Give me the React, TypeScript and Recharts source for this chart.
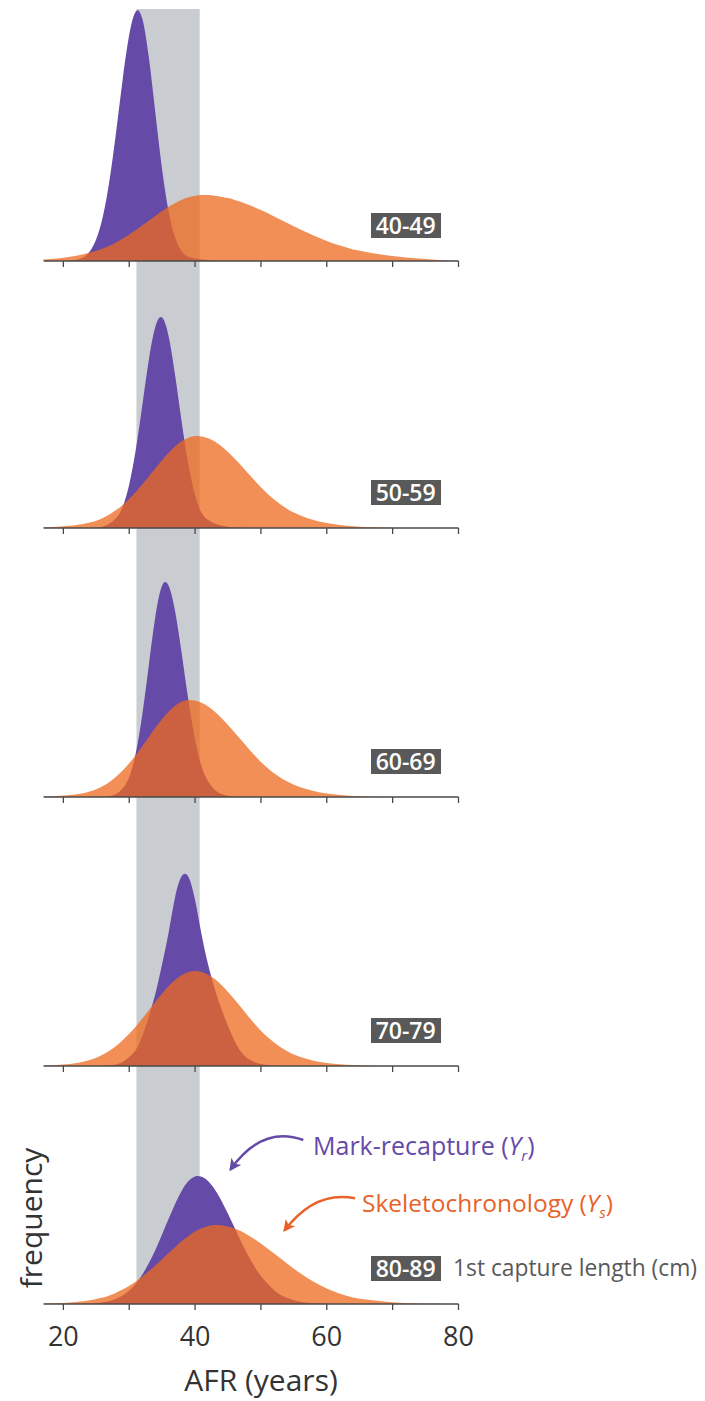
import React from "react";
import { Area, ComposedChart, ReferenceArea, XAxis, YAxis } from "recharts";

// AFR grid (years) shared by every panel
const ages = [
  17, 19, 21,
  22, 23, 24, 25, 26, 27, 28, 29, 30, 31,
  32, 33, 34, 35, 36, 37, 38, 39, 40, 41,
  42, 43, 44, 45, 46, 47, 48, 49, 50,
  52, 54, 56, 58, 60, 62, 64, 66, 68, 70, 72, 74, 76, 78, 80,
];

const xTicks = [20, 30, 40, 50, 60, 70, 80];
const sizeClasses = ["40-49", "50-59", "60-69", "70-79", "80-89"];
// grey band: AFR range highlighted across all panels
const bandRange = [31.1, 40.7];

// frequency (arbitrary units)
const mark4049 = [
  0, 0, 0.3,
  1.2, 3.6, 9.4, 21.9, 44.5, 80.4, 128.4, 181.3, 226.2, 249.6,
  242.1, 202.7, 146.4, 91.2, 49, 22.7, 9.5, 4.2, 2.6, 1.6,
  1, 0.5, 0.2, 0, 0, 0, 0, 0, 0,
  0, 0, 0, 0, 0, 0, 0, 0, 0, 0, 0, 0, 0, 0, 0,
];
const skel4049 = [
  1.5, 2.5, 4.2,
  5.3, 6.7, 8.3, 10.3, 12.6, 15.3, 18.6, 22.4, 26.6, 31,
  35.7, 40.5, 45.3, 49.9, 54.3, 58.1, 61.3, 63.7, 65.3, 66,
  65.9, 65.3, 64.3, 62.9, 61.1, 58.9, 56.5, 53.8, 50.9,
  44.6, 38, 31.6, 25.6, 20.1, 15.4, 11.5, 9, 6.8, 5, 3.5, 2.4, 1.5, 0.7, 0,
];

const mark5059 = [
  0, 0, 0,
  0, 0, 0, 0.5, 1.5, 4.5, 10, 21, 43.5, 78.4,
  123.2, 169, 201.9, 210.4, 191.2, 151.4, 104.5, 62.9, 33, 15.1,
  8, 4.5, 2.5, 1.2, 0.5, 0.2, 0, 0, 0,
  0, 0, 0, 0, 0, 0, 0, 0, 0, 0, 0, 0, 0, 0, 0,
];
const skel5059 = [
  0.8, 1.3, 2.2,
  3, 4, 5.5, 7.3, 10.1, 13.6, 17.9, 23.1, 29.2, 36.1,
  43.7, 51.7, 59.9, 67.9, 75.3, 81.8, 86.9, 90.3, 91.9, 91.6,
  89.7, 86.4, 81.7, 76, 69.4, 62.4, 55, 47.8, 40.7,
  28.5, 19, 12.5, 8, 5, 3, 1.8, 1.1, 0.6, 0.3, 0, 0, 0, 0, 0,
];

const mark6069 = [
  0, 0, 0,
  0, 0, 0, 0, 0.3, 1, 3, 8.5, 20, 44.1,
  83, 133, 181.7, 211.5, 210.9, 184.5, 142.1, 96.3, 57.4, 30.2,
  15.5, 7, 3, 1.3, 0.5, 0.2, 0, 0, 0,
  0, 0, 0, 0, 0, 0, 0, 0, 0, 0, 0, 0, 0, 0, 0,
];
const skel6069 = [
  0.6, 1, 1.9,
  2.7, 3.8, 5.4, 7.8, 11, 15.1, 20.3, 26.5, 33.8, 42,
  51, 60.3, 69.5, 78.1, 85.6, 91.5, 95.4, 97, 96.4, 94.2,
  90.4, 85.3, 79.1, 72.1, 64.6, 56.9, 49.2, 41.9, 35,
  23.8, 15.6, 9.8, 6, 3.5, 2, 1.1, 0.6, 0.3, 0.1, 0, 0, 0, 0, 0,
];

const mark7079 = [
  0, 0, 0,
  0, 0, 0, 0, 0, 0.5, 1.5, 4, 9, 16,
  30, 50, 73, 102, 134, 170, 190, 189, 166, 131,
  101, 77, 57, 40, 25, 14, 7.5, 4, 2,
  0.3, 0, 0, 0, 0, 0, 0, 0, 0, 0, 0, 0, 0, 0, 0,
];
const skel7079 = [
  0.6, 1.1, 2.1,
  3, 4.2, 6, 8.3, 11.4, 15.3, 20, 25.7, 32.2, 39.6,
  47.5, 55.9, 64.4, 72.5, 79.9, 86.2, 91, 94, 95, 94.1,
  91.3, 86.9, 81, 74.1, 66.5, 58.4, 50.3, 42.5, 35.2,
  23.5, 14.8, 9, 5.2, 3, 1.7, 0.9, 0.5, 0.2, 0, 0, 0, 0, 0, 0,
];

const mark8089 = [
  0, 0, 0,
  0, 0.2, 0.4, 0.9, 1.7, 3, 5.2, 8.5, 13.5, 20.3,
  29.5, 40.9, 54.5, 69.8, 85.5, 100.6, 113.6, 122.9, 127.6, 127.2,
  122.7, 114.5, 103.3, 90.2, 76.2, 62.3, 49.3, 37.7, 27.9,
  13.8, 6, 2.3, 0.8, 0.3, 0, 0, 0, 0, 0, 0, 0, 0, 0, 0,
];
const skel8089 = [
  0.5, 0.9, 1.6,
  2.1, 2.8, 3.7, 5, 6.5, 8.6, 11.3, 14.4, 18.2, 22.5,
  27.4, 32.9, 38.7, 44.8, 51, 57.1, 62.9, 68.1, 72.4, 75.8,
  78, 79, 78.7, 77.5, 75.5, 72.7, 69.1, 65, 60.5,
  50.5, 40.3, 30.7, 22.3, 15.5, 10.2, 6.5, 4.5, 3, 1.8, 1, 0.6, 0.3, 0.1, 0,
];

const markSeries = [mark4049, mark5059, mark6069, mark7079, mark8089];
const skelSeries = [skel4049, skel5059, skel6069, skel7079, skel8089];

// layout
const CHART_W = 470;
const plotHeights = [252, 259, 261, 261, 230];
const marginTops = [1, 0, 0, 0, 0];
const SMALL_AXIS_H = 8;
const LAST_AXIS_H = 95;

const PURPLE = "#654aa8";
const ORANGE = "#ee6a1e";
const ORANGE_TEXT = "#e8622a";
const BAND = "#c9ccd0";
const AXIS = "#4a4a4a";
const FONT = "'Open Sans', 'DejaVu Sans', sans-serif";

const Panel = ({ idx }: { idx: number }) => {
  const last = idx === sizeClasses.length - 1;
  const plotH = plotHeights[idx];
  const mt = marginTops[idx];
  const axisH = last ? LAST_AXIS_H : SMALL_AXIS_H;
  const height = mt + plotH + axisH;
  const data = ages.map((age, i) => ({
    age,
    mark: markSeries[idx][i],
    skel: skelSeries[idx][i],
  }));

  return (
    <div style={{ position: "relative", width: CHART_W, height }}>
      <ComposedChart
        width={CHART_W}
        height={height}
        data={data}
        margin={{ top: mt, right: 19.5, bottom: 0, left: 35.6 }}
      >
        <XAxis
          type="number"
          dataKey="age"
          domain={[17, 80]}
          ticks={xTicks}
          interval={0}
          height={axisH}
          tickSize={6}
          tickMargin={17}
          axisLine={{ stroke: AXIS, strokeWidth: 1.3 }}
          tickLine={{ stroke: AXIS, strokeWidth: 1.3 }}
          tick={{ fontSize: 27, fill: "#333", fontFamily: FONT }}
          tickFormatter={(v: number) => (last && v % 20 === 0 ? String(v) : "")}
        />
        <YAxis hide type="number" domain={[0, plotH]} allowDataOverflow />
        <ReferenceArea
          x1={bandRange[0]}
          x2={bandRange[1]}
          y1={last ? 0 : -axisH}
          y2={plotH}
          ifOverflow="visible"
          fill={BAND}
          fillOpacity={1}
          stroke="none"
        />
        <Area
          type="natural"
          dataKey="mark"
          fill={PURPLE}
          fillOpacity={1}
          stroke="none"
          dot={false}
          activeDot={false}
          isAnimationActive={false}
        />
        <Area
          type="monotone"
          dataKey="skel"
          fill={ORANGE}
          fillOpacity={0.75}
          stroke="none"
          dot={false}
          activeDot={false}
          isAnimationActive={false}
        />
      </ComposedChart>
      <div
        style={{
          position: "absolute",
          left: 362.7,
          top: mt + plotH - 48,
          width: 70,
          height: 25,
          lineHeight: "25px",
          background: "#595959",
          color: "#fff",
          fontFamily: FONT,
          fontWeight: 600,
          fontSize: 23,
          textAlign: "center",
        }}
      >
        {sizeClasses[idx]}
      </div>
    </div>
  );
};

export default function App() {
  return (
    <div style={{ position: "relative", width: 697, fontFamily: FONT }}>
      {sizeClasses.map((_, i) => (
        <Panel key={i} idx={i} />
      ))}
      <svg
        width={697}
        height={1393}
        style={{ position: "absolute", left: 0, top: 0, pointerEvents: "none", overflow: "visible" }}
      >
        <defs>
          <marker id="headP" markerUnits="userSpaceOnUse" markerWidth={14} markerHeight={14} refX={10} refY={6} orient="auto">
            <path d="M0,0 L12,6 L0,12 L3,6 z" fill={PURPLE} />
          </marker>
          <marker id="headO" markerUnits="userSpaceOnUse" markerWidth={14} markerHeight={14} refX={10} refY={6} orient="auto">
            <path d="M0,0 L12,6 L0,12 L3,6 z" fill={ORANGE_TEXT} />
          </marker>
        </defs>
        <path d="M295.3 1132 Q254 1117 222.5 1161.5" fill="none" stroke={PURPLE} strokeWidth={2.5} markerEnd="url(#headP)" />
        <path d="M347 1190.3 Q307 1182 276.5 1222.5" fill="none" stroke={ORANGE_TEXT} strokeWidth={2.5} markerEnd="url(#headO)" />
        <text x={305} y={1147} fontSize={25} fill={PURPLE} fontFamily={FONT}>
          Mark-recapture (<tspan fontStyle="italic">Y</tspan>
          <tspan fontStyle="italic" fontSize={15} dy={6}>r</tspan>
          <tspan dy={-6}>)</tspan>
        </text>
        <text x={354} y={1203.5} fontSize={24.5} fill={ORANGE_TEXT} fontFamily={FONT}>
          Skeletochronology (<tspan fontStyle="italic">Y</tspan>
          <tspan fontStyle="italic" fontSize={15} dy={6}>s</tspan>
          <tspan dy={-6}>)</tspan>
        </text>
        <text x={445} y={1268} fontSize={22.8} fill="#595959" fontFamily={FONT}>
          1st capture length (cm)
        </text>
        <text
          x={22}
          y={1210}
          fontSize={30}
          fill="#333"
          fontFamily={FONT}
          textAnchor="middle"
          dominantBaseline="central"
          transform="rotate(-90 22 1210)"
        >
          frequency
        </text>
        <text x={253} y={1382.7} fontSize={30} fill="#333" fontFamily={FONT} textAnchor="middle">
          AFR (years)
        </text>
      </svg>
    </div>
  );
}
